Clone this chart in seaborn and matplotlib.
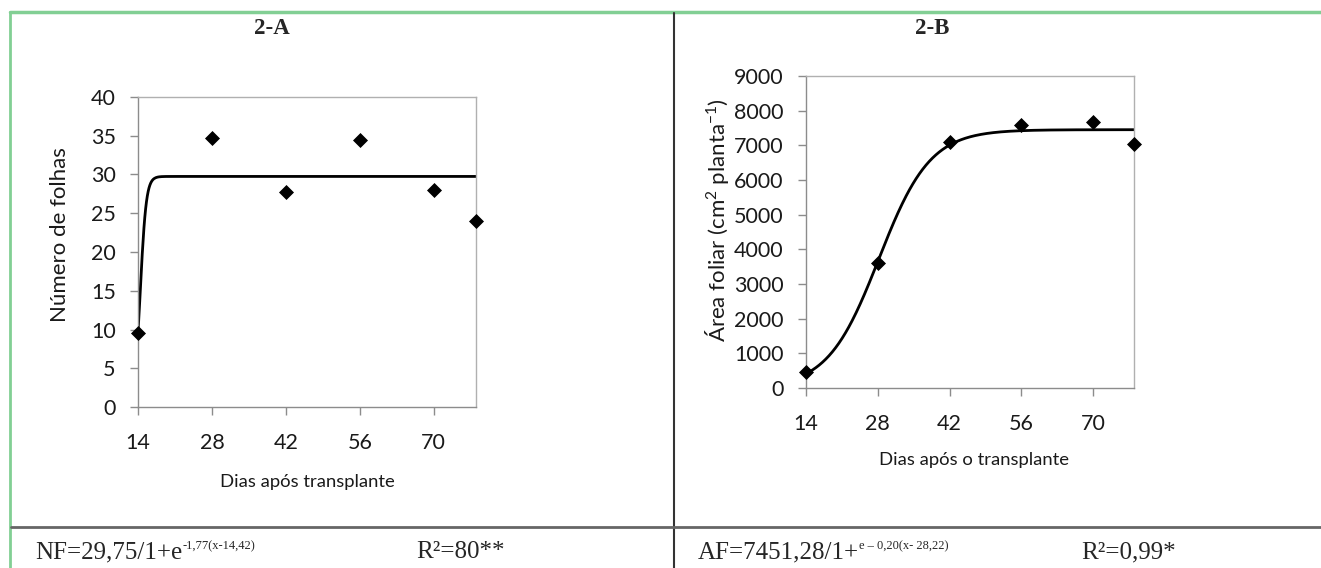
import numpy as np
import pandas as pd
import matplotlib
matplotlib.use("Agg")
import matplotlib.pyplot as plt
import seaborn as sns

# dados
dias = [14, 28, 42, 56, 70, 78]
n_folhas = [9.5, 34.7, 27.7, 34.4, 28.0, 24.0]
area_foliar = [470, 3620, 7100, 7580, 7660, 7030]

# parametros dos modelos logisticos (escritos no rodape)
nf_a, nf_b, nf_c = 29.75, 1.77, 14.42
af_a, af_b, af_c = 7451.28, 0.20, 28.22

sns.set_style("white")
plt.rcParams["font.family"] = ["Lato", "DejaVu Sans"]
plt.rcParams["mathtext.fontset"] = "custom"
plt.rcParams["mathtext.rm"] = "Lato"
plt.rcParams["mathtext.it"] = "Lato"

W, H = 1321, 568
fig = plt.figure(figsize=(W / 100, H / 100), dpi=100)
renderer = fig.canvas.get_renderer()


def px_axes(x0, x1, ytop, ybot):
    return fig.add_axes([x0 / W, 1 - ybot / H, (x1 - x0) / W, (ybot - ytop) / H])


def estilo(ax, ylim, yticks):
    ax.set_xlim(14, 78)
    ax.set_ylim(*ylim)
    ax.set_xticks([14, 28, 42, 56, 70])
    ax.set_yticks(yticks)
    for s in ax.spines.values():
        s.set_visible(True)
        s.set_color("#b0b0b0")
        s.set_linewidth(1)
    ax.spines["left"].set_color("#8c8c8c")
    ax.spines["bottom"].set_color("#8c8c8c")
    ax.tick_params(axis="x", length=6, width=1, color="#8c8c8c", pad=13,
                   labelsize=15.5, labelcolor="#1a1a1a", bottom=True)
    ax.tick_params(axis="y", length=6, width=1, color="#8c8c8c", pad=10,
                   labelsize=15.5, labelcolor="#1a1a1a", left=True)
    ax.set_xlabel("")
    ax.set_ylabel("")


def equacao(x, y, base, sup, size=18, sup_size=9):
    # texto base + expoente colocado logo depois
    t = fig.text(x / W, 1 - y / H, base, ha="left", va="baseline",
                 fontsize=size, family="Liberation Serif")
    bb = t.get_window_extent(renderer)
    fig.text(bb.x1 / W, 1 - (y - 9) / H, sup, ha="left", va="baseline",
             fontsize=sup_size, family="Liberation Serif")


# ---- 2-A ----
ax1 = px_axes(138, 476, 97, 407)
xa = np.linspace(14, 78, 400)
curva_a = pd.DataFrame({"x": xa, "y": nf_a / (1 + np.exp(-nf_b * (xa - nf_c)))})
sns.lineplot(data=curva_a, x="x", y="y", ax=ax1, color="black", linewidth=2)
sns.scatterplot(x=dias, y=n_folhas, ax=ax1, marker="D", s=50, color="black",
                edgecolor="black", zorder=5, clip_on=False)
estilo(ax1, (0, 40), range(0, 41, 5))

# ---- 2-B ----
ax2 = px_axes(806, 1134, 76, 388)
curva_b = pd.DataFrame({"x": xa, "y": af_a / (1 + np.exp(-af_b * (xa - af_c)))})
sns.lineplot(data=curva_b, x="x", y="y", ax=ax2, color="black", linewidth=2)
sns.scatterplot(x=dias, y=area_foliar, ax=ax2, marker="D", s=50, color="black",
                edgecolor="black", zorder=5, clip_on=False)
estilo(ax2, (0, 9000), range(0, 9001, 1000))

# rotulos dos eixos
fig.text(307 / W, 1 - 482 / H, "Dias após transplante", ha="center", va="center",
         fontsize=13.3, color="#1a1a1a")
fig.text(974 / W, 1 - 460 / H, "Dias após o transplante", ha="center", va="center",
         fontsize=13.3, color="#1a1a1a")
fig.text(60 / W, 1 - 235 / H, "Número de folhas", ha="center", va="center",
         rotation=90, fontsize=16, color="#1a1a1a")
fig.text(717 / W, 1 - 220 / H, "Área foliar (cm$^2$ planta$^{-1}$)", ha="center",
         va="center", rotation=90, fontsize=16, color="#1a1a1a")

# titulos
fig.text(272 / W, 1 - 29 / H, "2-A", ha="center", va="center", fontsize=16.5,
         fontweight="bold", family="Liberation Serif")
fig.text(932 / W, 1 - 29 / H, "2-B", ha="center", va="center", fontsize=16.5,
         fontweight="bold", family="Liberation Serif")

# equacoes
equacao(35, 558, "NF=29,75/1+e", "-1,77(x-14,42)")
fig.text(505 / W, 1 - 558 / H, "R²=80**", ha="right", va="baseline",
         fontsize=18, family="Liberation Serif")
equacao(698, 558, "AF=7451,28/1+", "e – 0,20(x- 28,22)")
fig.text(1176 / W, 1 - 558 / H, "R²=0,99*", ha="right", va="baseline",
         fontsize=18, family="Liberation Serif")

# linhas da tabela
verde = "#82cf94"
fig.add_artist(plt.Line2D([10 / W, 1], [1 - 11.5 / H] * 2, color=verde, lw=2.5))
fig.add_artist(plt.Line2D([10 / W] * 2, [0, 1 - 11.5 / H], color=verde, lw=2))
fig.add_artist(plt.Line2D([674 / W] * 2, [0, 1 - 12.5 / H], color="#333333", lw=1.5))
fig.add_artist(plt.Line2D([11 / W, 1], [1 - 527 / H] * 2, color="#666666", lw=2))

fig.savefig("out.png", dpi=100)
